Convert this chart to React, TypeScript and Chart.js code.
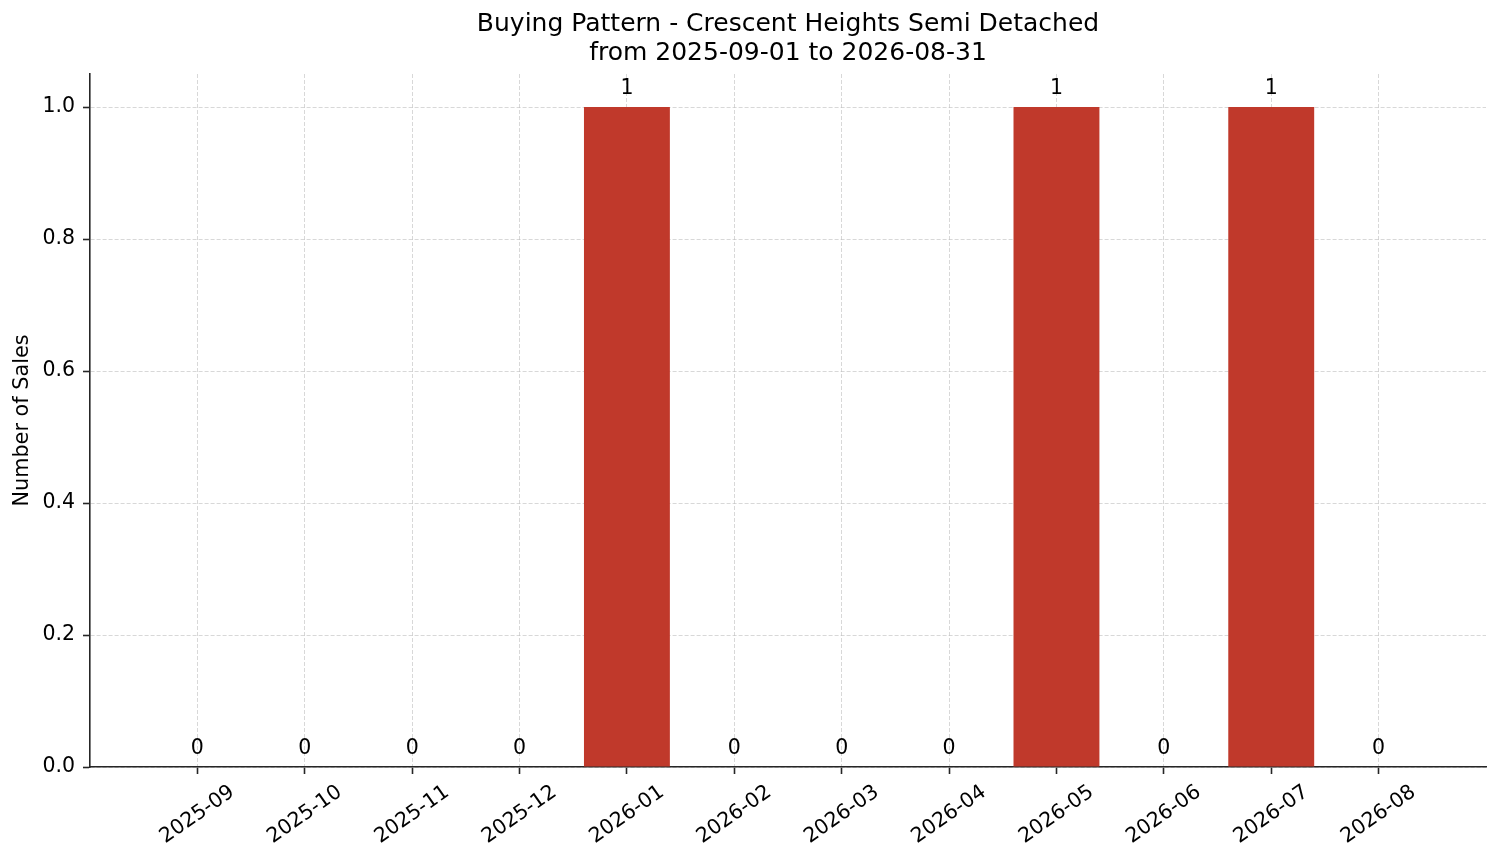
import { Chart, registerables } from "chart.js";
import { useEffect, useRef } from "react";

Chart.register(...registerables);

const months = ["2025-09", "2025-10", "2025-11", "2025-12", "2026-01", "2026-02", "2026-03", "2026-04", "2026-05", "2026-06", "2026-07", "2026-08"];
const sales = [0, 0, 0, 0, 1, 0, 0, 0, 1, 0, 1, 0];
const yTicks = [0, 0.2, 0.4, 0.6, 0.8, 1.0];

const FONT = "'DejaVu Sans', sans-serif";
const AXIS_COLOR = "#262626";
const GRID_COLOR = "rgba(190, 190, 190, 0.6)";
const ROTATION = 35;
const TICK_SIZE = 20.5;

// draws the count above every bar, like matplotlib's bar_label
const barLabels = {
    id: "barLabels",
    afterDatasetsDraw(chart: any) {
        const ctx = chart.ctx;
        const meta = chart.getDatasetMeta(0);
        ctx.save();
        ctx.font = `${TICK_SIZE}px ${FONT}`;
        ctx.fillStyle = "#000";
        ctx.textAlign = "center";
        ctx.textBaseline = "alphabetic";
        meta.data.forEach((bar: any, i: number) => {
            ctx.fillText(String(sales[i]), bar.x, bar.y - 13);
        });
        ctx.restore();
    },
};

export default function App() {
    const chartRef = useRef<HTMLCanvasElement>(null);
    const chartInstance = useRef<Chart | null>(null);

    useEffect(() => {
        document.body.style.margin = "0";
        if (!chartRef.current) return;

        const ctx = chartRef.current.getContext("2d");
        if (!ctx) return;

        // centre the rotated month labels on their ticks
        ctx.font = `${TICK_SIZE}px ${FONT}`;
        const labelWidth = ctx.measureText(months[0]).width;
        const labelOffset = (labelWidth / 2) * Math.cos((ROTATION * Math.PI) / 180);

        const config = {
            type: "bar",
            data: {
                datasets: [
                    {
                        label: "Sales",
                        data: sales.map((v, i) => ({ x: i, y: v })),
                        backgroundColor: "#c0392b",
                        borderWidth: 0,
                        barPercentage: 0.8,
                        categoryPercentage: 1,
                    },
                ],
            },
            options: {
                responsive: false,
                animation: false,
                devicePixelRatio: 1,
                layout: { padding: { left: 0, right: 15, top: 0, bottom: 0 } },
                plugins: {
                    legend: { display: false },
                    tooltip: { enabled: false },
                    title: {
                        display: true,
                        fullSize: false,
                        text: ["Buying Pattern - Crescent Heights Semi Detached", "from 2025-09-01 to 2026-08-31"],
                        color: "#000",
                        font: { family: FONT, size: 25, weight: "normal", lineHeight: 1.16 },
                        padding: { top: 10, bottom: 6 },
                    },
                },
                scales: {
                    x: {
                        type: "linear",
                        min: -1,
                        max: 12,
                        offset: false,
                        z: 1,
                        afterBuildTicks: (scale: any) => {
                            scale.ticks = months.map((_, i) => ({ value: i }));
                        },
                        afterFit: (scale: any) => {
                            scale.height = 96;
                        },
                        ticks: {
                            autoSkip: false,
                            minRotation: ROTATION,
                            maxRotation: ROTATION,
                            labelOffset: labelOffset,
                            padding: 6,
                            color: "#000",
                            font: { family: FONT, size: TICK_SIZE },
                            callback: (v: number) => months[v] ?? "",
                        },
                        grid: {
                            offset: false,
                            color: GRID_COLOR,
                            lineWidth: 1,
                            tickColor: AXIS_COLOR,
                            tickLength: 7,
                            tickWidth: 1.6,
                        },
                        border: { display: true, color: AXIS_COLOR, width: 1.6, dash: [4, 2] },
                    },
                    y: {
                        type: "linear",
                        min: 0,
                        max: 1.05,
                        z: 1,
                        afterBuildTicks: (scale: any) => {
                            scale.ticks = yTicks.map(v => ({ value: v }));
                        },
                        afterFit: (scale: any) => {
                            scale.width = 90;
                        },
                        ticks: {
                            padding: 8,
                            color: "#000",
                            font: { family: FONT, size: TICK_SIZE },
                            callback: (v: number) => v.toFixed(1),
                        },
                        grid: {
                            color: GRID_COLOR,
                            lineWidth: 1,
                            tickColor: AXIS_COLOR,
                            tickLength: 7,
                            tickWidth: 1.6,
                        },
                        border: { display: true, color: AXIS_COLOR, width: 1.6, dash: [4, 2] },
                        title: {
                            display: true,
                            text: "Number of Sales",
                            color: "#000",
                            font: { family: FONT, size: 20.8 },
                            padding: { top: 10, bottom: 0 },
                        },
                    },
                },
            },
            plugins: [barLabels],
        };

        if (chartInstance.current) {
            chartInstance.current.destroy();
        }
        chartInstance.current = new Chart(ctx, config as any);

        return () => {
            if (chartInstance.current) {
                chartInstance.current.destroy();
                chartInstance.current = null;
            }
        };
    }, []);

    return <canvas ref={chartRef} width={1501} height={863} style={{ display: "block" }} />;
}
